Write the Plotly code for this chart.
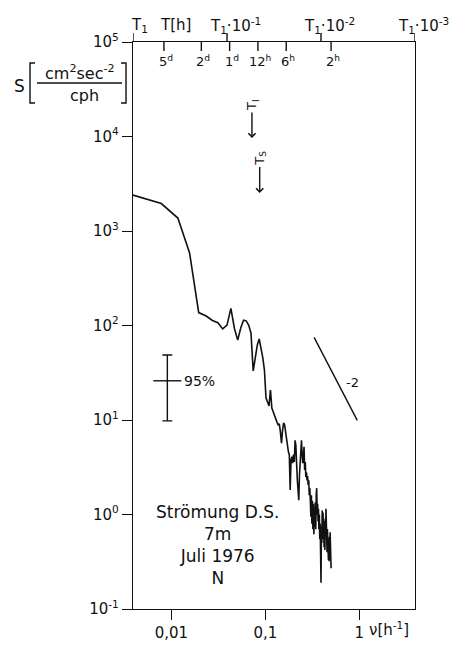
import math
import plotly.graph_objects as go

# ---------------- data ----------------
T1_HOURS = 256  # record length -> lowest frequency 1/T1
n_freq = 128
freq_cph = [k / T1_HOURS for k in range(1, n_freq + 1)]

spectrum = [
    2400, 1950, 1370, 585, 137, 126, 113, 107, 92, 101,
    152, 93, 70, 94, 114, 112, 101, 83, 33, 49,
    62, 72, 59, 46, 34, 17.1, 15.5, 14.1, 20.8, 13.4,
    12.2, 11.0, 10.5, 9.5, 8.9, 9.1, 7.5, 5.7, 7.8, 9.3,
    8.9, 7.3, 6.6, 5.4, 4.6, 4.3, 1.82, 3.8, 4.1, 3.5,
    4.3, 3.6, 6.1, 5.4, 2.75, 2.3, 1.82, 1.42, 2.6, 3.8,
    4.6, 6.1, 4.3, 3.5, 4.0, 5.2, 2.96, 3.6, 2.5, 2.8,
    2.3, 2.55, 2.05, 2.3, 1.6, 1.9, 1.42, 0.95, 1.6, 0.8,
    1.4, 0.7, 1.3, 0.62, 1.2, 0.75, 1.35, 0.7, 1.6, 1.9,
    1.0, 1.3, 0.85, 1.15, 0.7, 1.0, 0.55, 0.8, 0.4, 0.19,
    0.75, 0.5, 1.1, 0.55, 1.05, 0.5, 0.95, 0.45, 0.85, 0.42,
    0.9, 0.6, 1.15, 0.55, 0.75, 0.4, 0.7, 0.38, 0.62, 0.33,
    0.55, 0.32, 0.58, 0.35, 0.65, 0.3, 0.45, 0.27,
]

y_tick_vals = [0.1, 1, 10, 100, 1000, 10000, 100000]
y_tick_text = ["10<sup>-1</sup>", "10<sup>0</sup>", "10<sup>1</sup>", "10<sup>2</sup>",
               "10<sup>3</sup>", "10<sup>4</sup>", "10<sup>5</sup>"]
x_tick_vals = [0.01, 0.1, 1]
x_tick_text = ["0,01", "0,1", "1"]

period_hours = [120, 48, 24, 12, 6, 2]
period_text = ["5<sup>d</sup>", "2<sup>d</sup>", "1<sup>d</sup>", "12<sup>h</sup>", "6<sup>h</sup>", "2<sup>h</sup>"]
t1_decades = [0, 1, 2, 3]
t1_text = ["T<sub>1</sub>", "T<sub>1</sub>·10<sup>-1</sup>", "T<sub>1</sub>·10<sup>-2</sup>", "T<sub>1</sub>·10<sup>-3</sup>"]

conf_freq = 0.00906
conf_center = 26
conf_upper = 48.7
conf_lower = 9.8

slope_freq = [0.33, 0.95]
slope_S = [75, 9.9]

inertial_freq, inertial_head = 0.072, 9640
semi_freq, semi_head = 0.087, 2520

# ---------------- layout helpers ----------------
W, H = 453, 647
ML, MR, MT, MB = 133, 38, 42, 38
PW, PH = W - ML - MR, H - MT - MB
FONT = "DejaVu Sans"
INK = "#111111"


def px(x):
    return (x - ML) / PW


def py(y):
    return (H - MB - y) / PH


lg = math.log10


def note(**kw):
    kw.setdefault("showarrow", False)
    kw.setdefault("xanchor", "center")
    kw.setdefault("yanchor", "middle")
    return kw


def font(size):
    return dict(family=FONT, size=size, color=INK)


fig = go.Figure()

fig.add_trace(go.Scatter(
    x=freq_cph, y=spectrum, mode="lines",
    line=dict(color=INK, width=1.6), cliponaxis=False, hoverinfo="skip"))

fig.add_trace(go.Scatter(
    x=[conf_freq], y=[conf_center], mode="markers",
    marker=dict(symbol="line-ew", size=20, color=INK, line=dict(width=1.4, color=INK)),
    error_y=dict(type="data", symmetric=False,
                 array=[conf_upper - conf_center], arrayminus=[conf_center - conf_lower],
                 width=5, thickness=1.4, color=INK)))

fig.add_trace(go.Scatter(
    x=slope_freq, y=slope_S, mode="lines", line=dict(color=INK, width=1.4)))

shapes = []
annotations = []

# top axis: T1 decades (ticks upward) and period ticks (downward)
for d, txt in zip(t1_decades, t1_text):
    f = (10 ** d) / T1_HOURS
    shapes.append(dict(type="line", xref="x", yref="paper", x0=f, x1=f,
                       y0=1, y1=py(33), line=dict(color=INK, width=1.4)))
    annotations.append(note(x=lg(f), xref="x", y=py(25), yref="paper", text=txt,
                            xanchor="left", xshift=(-4 if d == 0 else -19), font=font(15)))

annotations.append(note(x=px(175), xref="paper", y=py(25), yref="paper", text="T[h]",
                        font=font(15)))

for h, txt in zip(period_hours, period_text):
    f = 1 / h
    shapes.append(dict(type="line", xref="x", yref="paper", x0=f, x1=f,
                       y0=1, y1=py(51), line=dict(color=INK, width=1.4)))
    annotations.append(note(x=lg(f), xref="x", y=py(61), yref="paper", text=txt,
                            xshift=2, font=font(13)))

# y-axis title S[cm2 sec-2 / cph]
annotations.append(note(x=px(19), xref="paper", y=py(86), yref="paper", text="S", font=font(17)))
annotations.append(note(x=px(80), xref="paper", y=py(72), yref="paper",
                        text="cm<sup>2</sup>sec<sup>-2</sup>", font=font(16)))
annotations.append(note(x=px(84), xref="paper", y=py(95), yref="paper", text="cph", font=font(16)))
shapes.append(dict(type="line", xref="paper", yref="paper", x0=px(37), x1=px(122),
                   y0=py(83), y1=py(83), line=dict(color=INK, width=1.4)))
shapes.append(dict(type="path", xref="paper", yref="paper",
                   path=f"M{px(35)},{py(63)} L{px(30)},{py(63)} L{px(30)},{py(103)} L{px(35)},{py(103)}",
                   line=dict(color=INK, width=1.4)))
shapes.append(dict(type="path", xref="paper", yref="paper",
                   path=f"M{px(121)},{py(63)} L{px(126)},{py(63)} L{px(126)},{py(103)} L{px(121)},{py(103)}",
                   line=dict(color=INK, width=1.4)))

# x-axis unit
annotations.append(note(x=0, xref="x", y=0, yref="paper", yshift=-20, xshift=8,
                        xanchor="left", text="ν[h<sup>-1</sup>]", font=font(15)))

# period markers (arrows)
annotations.append(dict(x=lg(inertial_freq), y=lg(inertial_head), xref="x", yref="y",
                        text="T<sub>I</sub>", textangle=-90, showarrow=True,
                        arrowhead=4, arrowsize=1, arrowwidth=1.4, arrowcolor=INK,
                        ax=0, ay=-33, font=font(13)))
annotations.append(dict(x=lg(semi_freq), y=lg(semi_head), xref="x", yref="y",
                        text="T<sub>S</sub>", textangle=-90, showarrow=True,
                        arrowhead=4, arrowsize=1, arrowwidth=1.4, arrowcolor=INK,
                        ax=0, ay=-35, font=font(13)))

# confidence label and slope label
annotations.append(note(x=lg(0.0131), y=lg(conf_center), xref="x", yref="y", text="95%",
                        xanchor="left", font=font(14)))
annotations.append(note(x=lg(0.842), y=lg(25.2), xref="x", yref="y", text="-2", font=font(13)))

# description block
annotations.append(note(x=px(217), xref="paper", y=py(545), yref="paper",
                        text="Strömung D.S.<br>7m<br>Juli 1976<br>N",
                        align="center", font=font(17)))

axis_common = dict(type="log", showline=True, mirror=True, linecolor=INK, linewidth=1.4,
                   ticks="outside", ticklen=10, tickwidth=1.4, tickcolor=INK,
                   showgrid=False, zeroline=False, automargin=False,
                   tickfont=font(15))

fig.update_layout(
    width=W, height=H, autosize=False,
    margin=dict(l=ML, r=MR, t=MT, b=MB, pad=0),
    paper_bgcolor="white", plot_bgcolor="white",
    showlegend=False,
    xaxis=dict(range=[lg(1 / T1_HOURS), lg(1000 / T1_HOURS)],
               tickvals=x_tick_vals, ticktext=x_tick_text, **axis_common),
    yaxis=dict(range=[-1, 5], tickvals=y_tick_vals, ticktext=y_tick_text, **axis_common),
    shapes=shapes, annotations=annotations,
)

fig.write_html("out.html")
